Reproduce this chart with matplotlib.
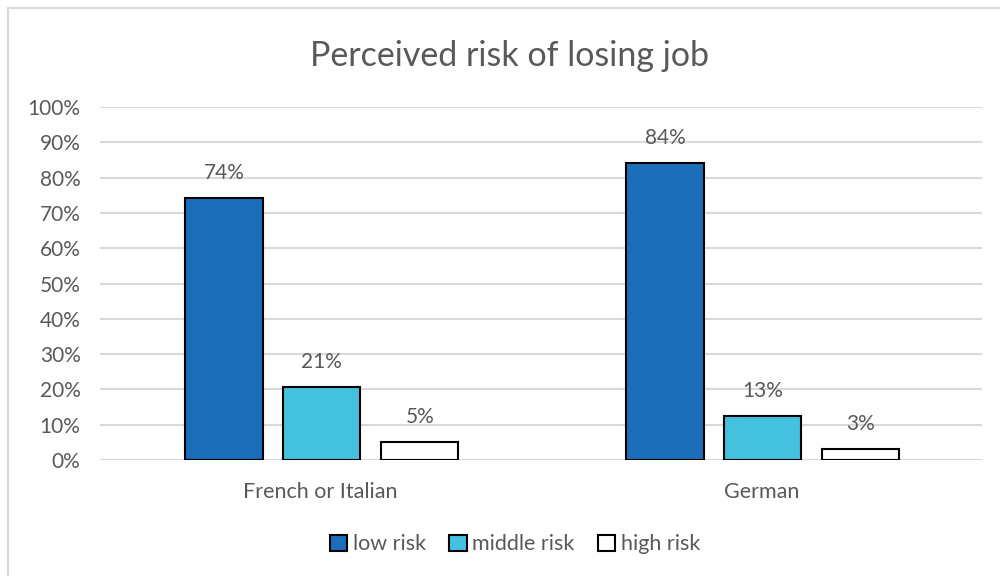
import matplotlib
matplotlib.use("Agg")
import numpy as np
from matplotlib import pyplot as plt
from matplotlib.lines import Line2D

categories = ["French or Italian", "German"]
series = ["low risk", "middle risk", "high risk"]
low_risk = [0.743, 0.842]
middle_risk = [0.206, 0.126]
high_risk = [0.052, 0.031]
yticks = [0.0, 0.1, 0.2, 0.3, 0.4, 0.5, 0.6, 0.7, 0.8, 0.9, 1.0]

colors = ["#1B6EBA", "#45C1E0", "#FFFFFF"]
text_color = "#595959"

plt.rcParams["font.family"] = ["Lato", "DejaVu Sans"]

fig = plt.figure(figsize=(10, 5.76), dpi=100)
ax = fig.add_axes([0.1, 0.2014, 0.882, 0.6128])

x = np.arange(len(categories))
offsets = [-0.219, 0.003, 0.225]
width = 0.175
for vals, name, col, off in zip([low_risk, middle_risk, high_risk], series, colors, offsets):
    bars = ax.bar(x + off, vals, width, color=col, edgecolor="black", linewidth=1.5,
                  label=name, zorder=3)
    for b, v in zip(bars, vals):
        ax.annotate("{:.0f}%".format(v * 100), (b.get_x() + b.get_width() / 2, v),
                    xytext=(0, 18), textcoords="offset points", ha="center", va="center",
                    fontsize=15, color=text_color)

ax.set_xlim(-0.5, 1.5)
ax.set_ylim(0, 1)
ax.set_yticks(yticks)
ax.set_yticklabels(["{:.0f}%".format(t * 100) for t in yticks])
ax.set_xticks(x)
ax.set_xticklabels(categories)
ax.tick_params(axis="both", length=0, labelsize=15, labelcolor=text_color)
ax.tick_params(axis="x", pad=16, labelsize=15.5)
ax.tick_params(axis="y", pad=14)
ax.grid(axis="y", color="#D9D9D9", linewidth=1.5, zorder=0)
for s in ax.spines.values():
    s.set_visible(False)

fig.text(0.51, 0.903, "Perceived risk of losing job", ha="center", va="center",
         fontsize=24.5, color=text_color)

leg = fig.legend(loc="center", bbox_to_anchor=(0.515, 0.055), ncol=3, frameon=False,
                 handlelength=0.8, handleheight=0.8, handletextpad=0.25, columnspacing=1.1,
                 fontsize=15.5)
for t in leg.get_texts():
    t.set_color(text_color)

# light frame on top and left edges
fig.lines.append(Line2D([0.008, 1.0], [0.986, 0.986], transform=fig.transFigure,
                        color="#D9D9D9", linewidth=1.5))
fig.lines.append(Line2D([0.008, 0.008], [0.0, 0.986], transform=fig.transFigure,
                        color="#D9D9D9", linewidth=1.5))

fig.savefig("out.png", dpi=100)
